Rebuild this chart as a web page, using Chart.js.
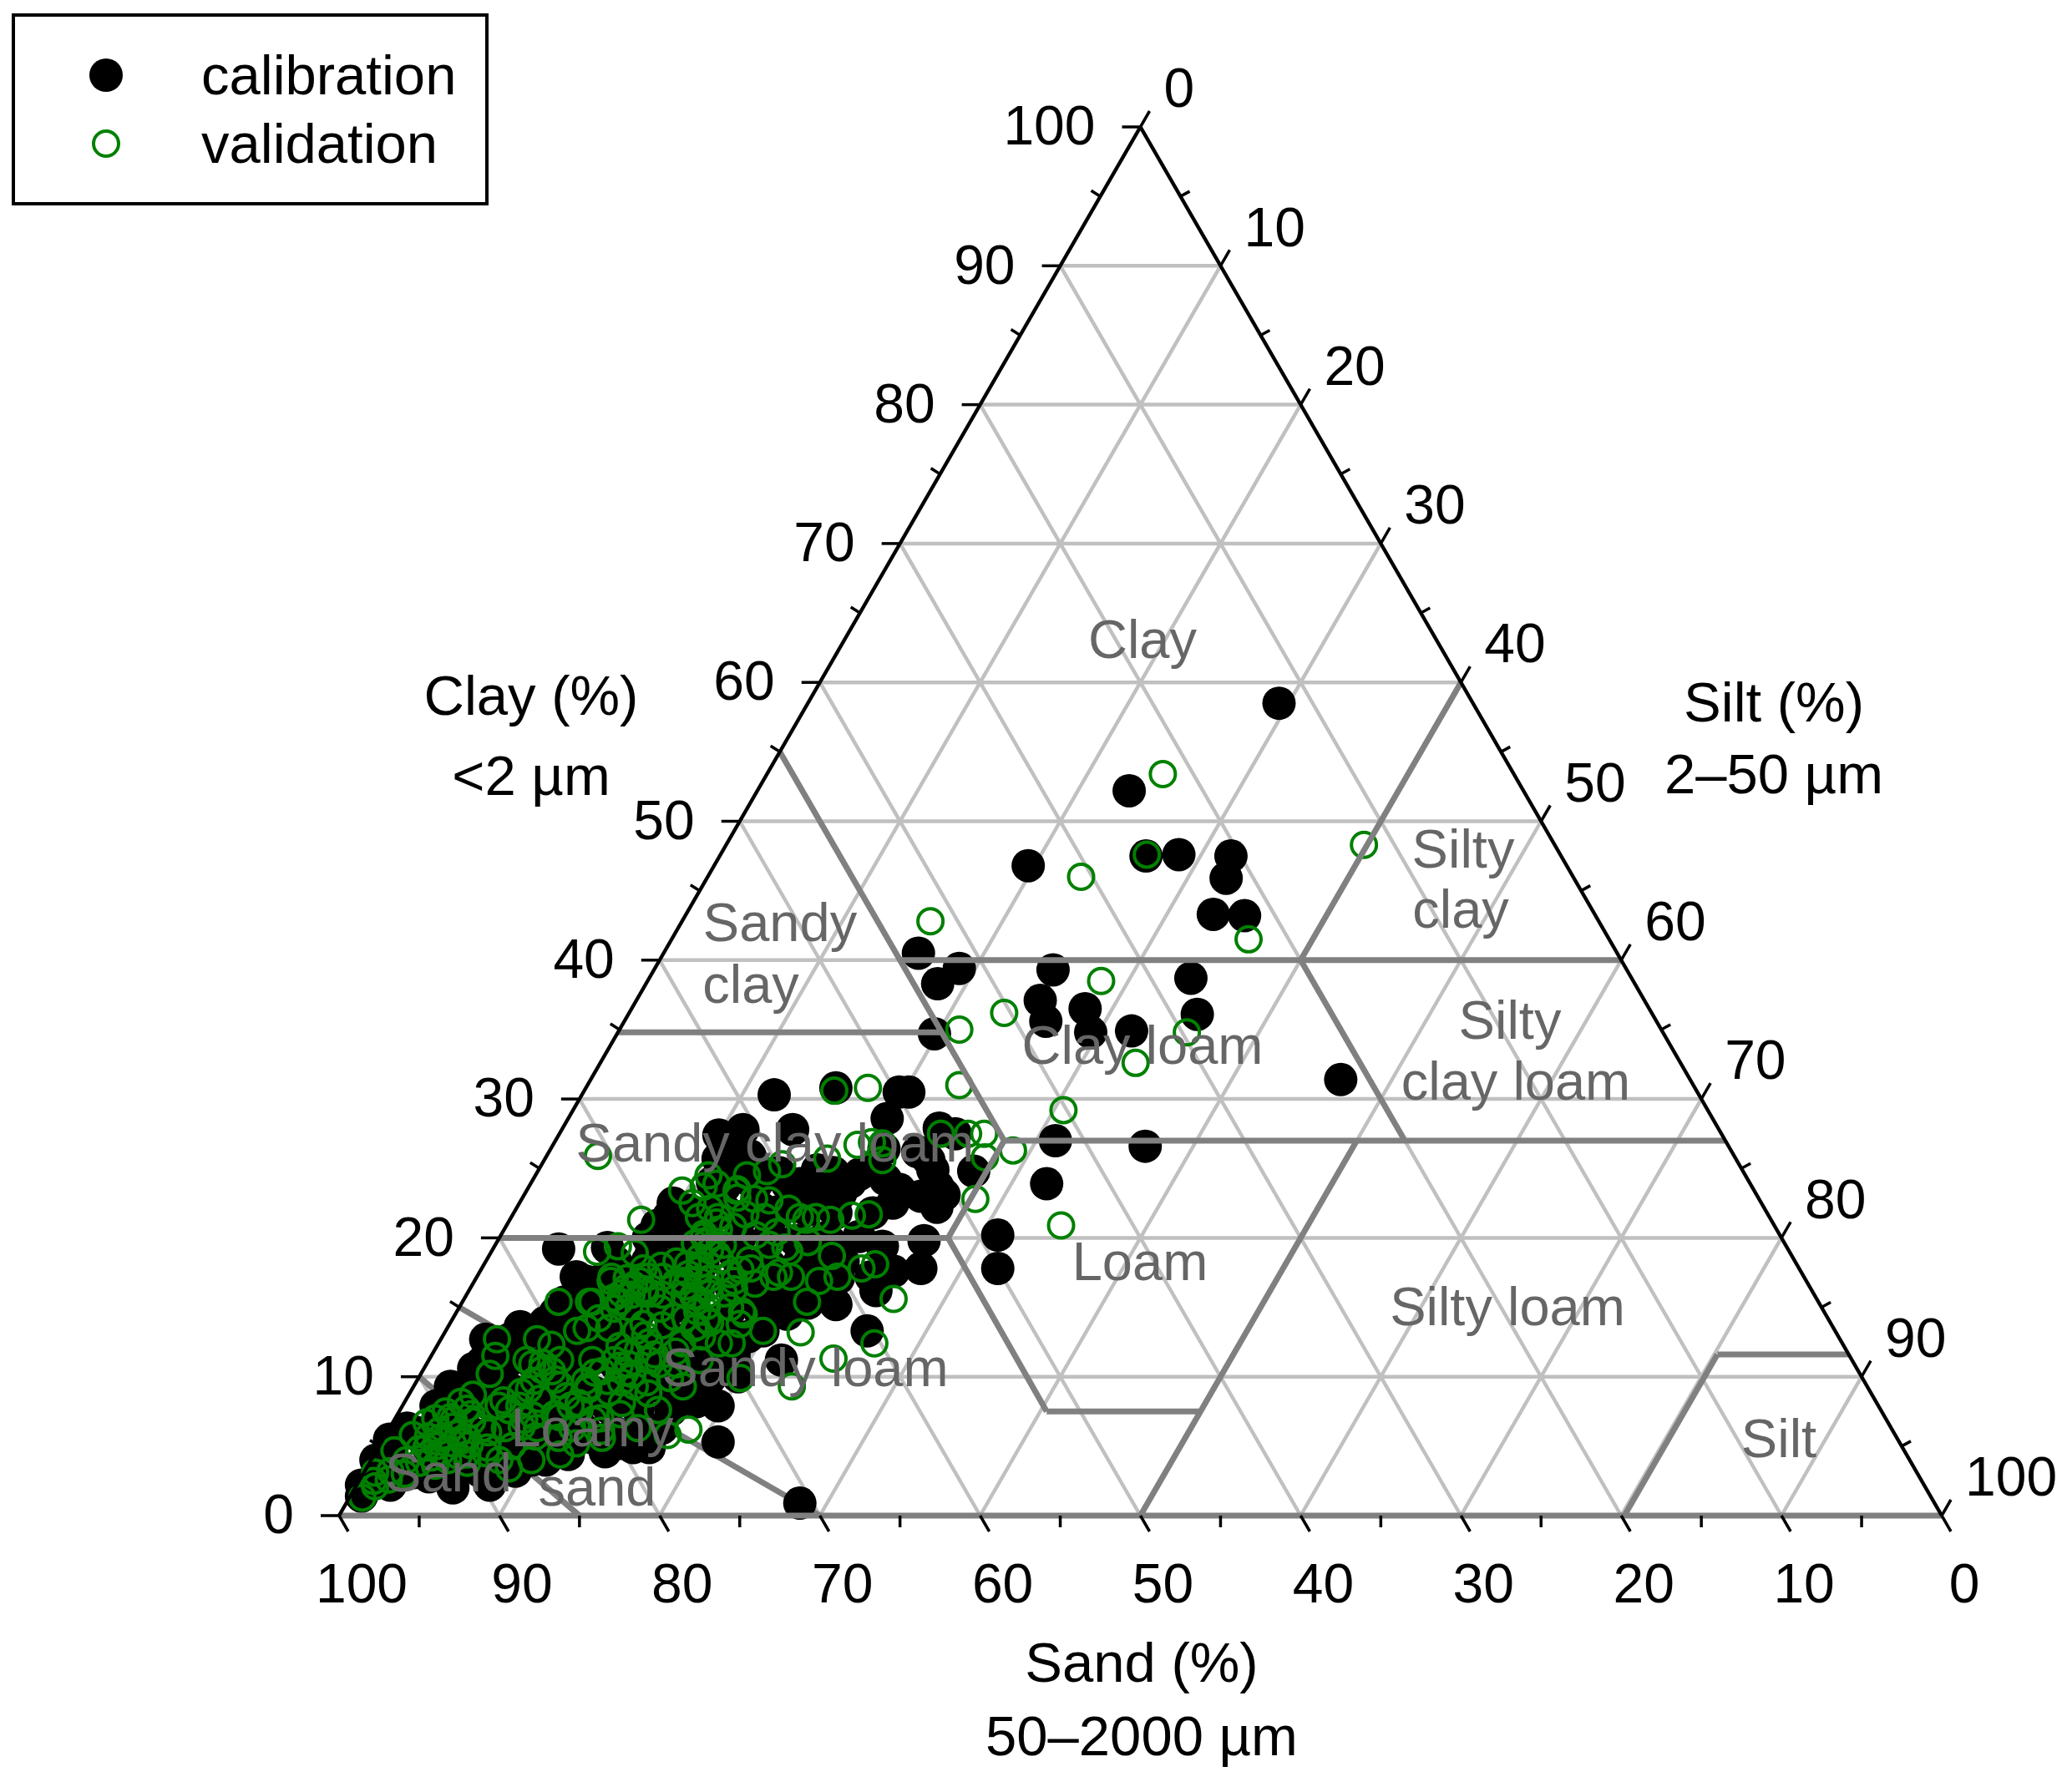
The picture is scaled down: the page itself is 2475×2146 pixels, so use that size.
<!DOCTYPE html>
<html>
<head>
<meta charset="utf-8">
<title>Soil texture triangle</title>
<script src="https://cdn.jsdelivr.net/npm/chart.js@4/dist/chart.umd.min.js"></script>
<style>
    html, body { margin: 0; padding: 0; background: #fff; }
    canvas { display: block; }
</style>
</head>
<body>
<canvas id="textureChart" width="2475" height="2146"></canvas>
<script>
// Values, in percent
const calClay = [58.5,52.2,46.8,47.5,47.6,47.5,45.9,43.3,43.2,40.5,39.4,38.3,39.3,37.1,35.6,36.5,34.8,34.9,38.7,36.1,31.4,27.0,26.6,23.9,20.2,34.7,
    5.3,17.8,17.6,16.2,17.8,13.3,11.2,14.5,15.9,7.9,8.2,10.0,17.1,13.3,0.9,
    30.3,30.8,30.5,30.5,28.6,27.9,27.5,26.4,24.9,23.5,22.5,24.9,23.7,23.1,22.2,24.8,21.8,19.8,27.4,27.8,27.8,26.4,24.9,24.7,23.9,23.5,24.7,25.3,24.9,
    22.5,21.5,25.7,23.7,25.9,23.9,22.9,19.7,21.9,21.9,21.9,20.9,18.4,18.4,17.7,17.2,15.3,16.5,19.3,16.9,
    19.2,17.2,16.9,15.4,13.6,12.7,10.6,13.9,20.9,19.0,17.2,15.3,13.6,11.8,11.8,16.9,13.6,12.4,15.7,12.9,12.4,10.9,10.3,9.3,
    8.7,7.9,6.3,5.5,4.0,2.2,1.4,2.2,2.8,2.0,2.2,2.8,4.0,4.9,4.9,4.9,5.6,5.2,6.3,5.2,5.2,6.3,7.3,9.3,9.3,7.3,8.2,9.3,7.6,12.7,13.3,14.2,3.4,4.0,3.2,4.0,3.2,
    13.5,11.7,10.5,9.9,12.9,15.3,17.7,19.5,18.9,17.7,16.5,12.3,9.3,8.1,5.6,
    3.0,3.1,2.9,3.2,
    4.5,4.6,4.4,4.5,4.7,4.4,4.6,
    6.0,6.1,5.9,6.0,6.2,5.8,6.1,6.0,5.9,
    7.8,7.7,7.9,7.8,7.6,8.0,7.8,7.7,
    9.1,9.2,9.0,9.1,9.3,8.9,9.1,9.2,9.0,
    11.0,11.1,10.9,11.0,11.2,10.8,11.0,11.1,10.9,11.0,
    12.8,12.7,12.9,12.8,12.6,13.0,12.8,12.7,
    14.6,14.7,14.5,14.6,14.8,14.4,14.6,14.7,
    16.4,16.3,16.5,16.4,16.2,16.6,16.4,16.3,
    18.2,18.3,18.1,18.2,18.4,18.0,18.2,18.3,
    20.0,20.1,19.9,20.0,20.2,19.8,20.0,20.1,
    22.0,21.9,22.1,22.0,21.8,
    24.0,24.1,23.9,24.0,24.2,
    23.2,24.6,22.3,25.6,26.2,23.0,19.4,15.2];
const calSilt = [29.4,23.2,19.6,26.6,28.6,31.9,32.4,32.9,34.9,15.9,19.0,18.2,24.9,25.2,26.3,28.3,29.5,32.0,33.8,35.5,46.8,31.2,37.0,32.2,31.0,19.8,
    21.0,27.4,25.8,25.4,32.2,26.3,22.0,20.7,19.2,19.7,18.2,19.9,22.6,19.8,28.3,
    12.0,15.6,19.7,20.3,19.9,23.5,24.7,20.8,21.0,23.2,23.3,24.6,25.5,26.2,26.2,27.2,22.4,26.6,10.0,11.3,14.4,11.0,17.4,18.5,16.8,18.7,15.1,13.1,11.8,
    9.6,9.8,10.8,12.2,12.7,14.1,17.0,20.8,16.5,14.8,12.2,11.5,17.4,20.0,21.8,24.6,21.6,18.3,7.1,7.8,
    4.1,6.2,6.9,6.4,4.5,2.8,3.1,5.9,9.4,10.0,8.8,12.2,10.4,7.9,5.3,14.0,16.5,16.3,17.2,19.1,13.7,11.8,9.4,2.3,
    2.8,2.1,1.1,0.4,0.3,0.3,0.7,2.1,0.9,6.1,8.3,4.2,10.0,11.5,15.9,16.9,13.0,15.0,17.0,6.3,2.8,4.0,7.0,5.1,7.7,10.5,12.6,14.7,16.9,4.3,5.8,7.0,4.6,6.0,9.4,10.9,2.1,
    15.9,18.8,15.2,18.2,12.0,10.7,11.7,12.9,15.2,19.5,17.5,9.2,10.7,8.7,7.3,
    1.2,3.1,5.3,7.2,
    1.0,3.4,5.1,7.6,9.3,12.1,14.3,
    1.8,3.2,5.4,6.6,8.7,10.4,12.3,14.2,16.0,
    2.4,3.9,5.6,7.4,9.2,11.1,12.9,14.8,
    3.3,4.8,6.3,8.2,9.6,11.4,13.2,15.6,17.1,
    3.4,5.0,6.7,8.4,10.1,12.3,13.8,15.7,17.4,19.2,
    4.9,6.8,8.3,10.2,12.1,14.0,15.4,17.6,
    6.2,8.1,9.7,11.4,13.2,15.1,17.0,18.9,
    7.4,9.0,10.8,12.6,14.3,16.1,19.5,21.2,
    8.2,10.1,11.9,13.6,15.7,17.9,19.6,22.3,
    9.3,11.2,13.1,15.0,16.8,18.6,20.3,22.4,
    10.8,13.2,15.3,18.2,20.1,
    11.3,13.6,16.0,19.9,22.0,
    19.7,20.2,17.6,24.0,23.0,24.8,24.2,23.4];

const valClay = [53.4,46.0,47.6,48.3,42.8,41.5,38.5,36.2,35.0,34.8,32.6,31.0,29.2,20.9,
    30.6,30.8,27.5,27.5,27.5,26.3,25.8,22.8,26.7,26.9,26.8,25.6,25.7,21.6,21.7,21.3,25.3,24.8,24.5,23.4,22.8,22.7,22.1,21.5,21.3,21.5,21.5,21.7,19.5,19.0,18.7,17.8,18.1,
    17.2,16.9,15.4,15.6,13.2,13.3,12.4,11.3,9.3,9.9,6.2,12.4,17.2,17.5,17.8,16.3,14.5,9.3,16.9,15.4,17.1,16.0,13.6,13.9,14.2,12.4,12.4,
    25.9,24.5,23.4,21.3,22.5,23.7,21.5,23.5,21.5,19.5,18.4,20.1,18.3,17.2,18.9,19.4,19.0,16.9,16.6,17.2,18.1,17.7,17.2,19.3,16.0,16.9,16.5,15.9,16.0,16.0,15.4,
    15.4,15.4,17.2,15.4,12.7,11.5,10.2,12.7,11.2,13.3,13.5,13.5,12.3,13.3,16.0,15.9,17.7,14.7,10.9,10.3,11.2,10.5,10.9,12.9,11.2,13.5,14.1,14.7,
    8.7,7.9,7.0,6.7,5.8,4.7,3.1,1.3,2.5,10.9,9.1,9.4,7.9,4.4,4.0,3.4,5.6,7.6,5.8,8.8,9.3,9.7,9.3,7.3,6.9,6.3,6.3,5.6,5.2,5.6,4.9,4.0,3.2,4.9,4.0,4.4,4.0,6.3,6.3,6.9,7.3,6.3,9.9,11.2,11.7,11.2,10.3,6.9,7.3,7.9,
    5.0,4.6,5.4,4.2,5.9,5.1,3.8,4.8,6.1,6.4,5.7,4.3,3.6,6.8,7.1,7.7,3.0,2.6,2.1,7.5,8.2,6.0,4.5,3.8,
    11.2,10.8,11.9,12.2,10.4,9.7,9.1,8.6,8.1,8.9,7.6,7.1,10.2,9.6,11.6,12.5,13.0,13.7,14.3,13.8,14.9,
    17.4,18.1,17.0,18.6,19.1,19.7,20.3,20.6,21.1,19.6,18.8,15.8,16.4,15.1,16.8,
    16.4,16.9,15.7,17.1,15.9,14.9,14.2,15.0,17.8,18.0,16.3,
    8.3,7.6,8.9,9.7,10.4,11.0,9.8,8.4,7.2,6.4,5.7,5.0,5.6,5.2,7.0,6.1,8.1,
    23.9,22.1,22.9,20.8,20.2,20.4,19.7,18.4,17.4,16.7,15.0,13.8,11.8,10.9,9.6];
const valSilt = [24.7,23.3,26.6,39.8,15.5,36.0,28.3,23.4,21.2,35.5,33.4,23.2,30.6,34.6,
    15.6,17.6,23.8,25.5,26.5,28.9,27.4,28.3,19.0,19.8,20.5,21.1,17.6,21.2,22.2,20.0,15.0,14.3,13.2,13.1,14.5,15.5,17.0,18.0,18.5,19.0,15.8,14.5,17.1,18.6,21.4,23.7,24.4,
    22.5,21.5,21.5,26.8,22.2,19.8,27.2,25.2,23.6,20.1,18.7,18.3,19.6,18.7,16.8,16.5,18.0,16.8,13.0,14.6,14.6,16.0,15.5,16.2,14.5,15.2,17.5,
    3.2,10.8,9.7,8.2,10.8,10.9,11.7,13.1,12.9,14.2,14.6,12.7,11.9,10.7,9.0,7.7,6.6,8.5,10.1,11.6,13.5,16.2,18.5,18.2,15.1,16.2,13.4,12.2,11.1,9.6,8.1,
    6.0,7.9,8.4,9.8,3.5,4.0,4.3,6.0,6.1,8.2,10.1,8.7,7.1,11.9,11.5,13.6,13.6,17.8,12.6,10.8,8.2,7.4,14.5,16.2,16.9,15.4,15.9,15.0,
    4.0,6.0,2.5,2.1,1.7,1.1,0.7,0.8,0.9,6.6,7.3,9.1,10.5,11.6,10.0,8.9,13.6,16.1,17.6,14.9,13.8,11.9,10.9,9.8,8.1,7.2,5.8,5.2,4.5,3.5,3.0,2.2,1.6,6.8,8.0,5.8,4.8,9.2,11.4,12.4,13.9,15.5,15.7,13.7,12.1,10.2,12.7,3.7,4.6,7.3,
    3.6,4.1,4.9,3.7,4.5,5.6,3.1,2.6,3.2,3.9,2.7,5.3,4.2,4.9,3.4,4.1,2.6,1.8,1.2,2.9,3.5,6.3,6.9,6.1,
    11.6,12.1,12.7,11.4,11.2,10.5,11.0,9.9,10.9,12.4,11.2,10.2,13.2,12.8,13.9,13.1,12.6,13.3,13.8,12.1,12.6,
    13.1,12.7,13.9,13.2,13.6,13.1,12.6,13.4,13.0,12.4,14.2,14.2,14.8,15.4,12.6,
    9.7,10.3,9.3,9.4,10.3,9.7,9.1,10.6,10.1,11.1,10.9,
    6.1,6.8,6.9,7.3,8.1,7.2,8.6,8.3,8.5,8.2,9.4,8.3,10.9,12.2,12.8,13.3,13.6,
    11.6,12.1,13.4,14.2,15.9,17.1,19.4,16.4,15.7,17.6,16.9,18.1,15.1,15.6,14.4];

const gridValues = [10, 20, 30, 40, 50, 60, 70, 80, 90];
const majorTicks = [0, 10, 20, 30, 40, 50, 60, 70, 80, 90, 100];
const minorTicks = [5, 15, 25, 35, 45, 55, 65, 75, 85, 95];
const clayLabels = ['0', '10', '20', '30', '40', '50', '60', '70', '80', '90', '100'];
const siltLabels = ['0', '10', '20', '30', '40', '50', '60', '70', '80', '90', '100'];
const sandLabels = ['100', '90', '80', '70', '60', '50', '40', '30', '20', '10', '0'];

// Texture class boundaries as [clay, silt] pairs
const classLines = [
    [[55, 0], [27, 28]], [[27, 28], [20, 28]], [[20, 28], [7.5, 40.4]], [[7.5, 40.4], [7.5, 50]],
    [[27, 50], [0, 50]], [[40, 15], [40, 60]], [[27, 28], [27, 73]], [[60, 40], [40, 40]],
    [[40, 40], [27, 53]], [[34.8, 0], [34.8, 20.2]], [[20, 0], [20, 28]],
    [[11.6, 80.2], [0, 80.2]], [[11.6, 80.2], [11.6, 88.4]], [[0, 0], [0, 100]]
];
// these two sit under the points in the reference
const lowerClassLines = [[[15, 0], [0, 30]], [[10, 0], [0, 15]]];

const classNames = ['Clay', 'Silty', 'clay', 'Sandy', 'clay', 'Clay loam', 'Silty', 'clay loam', 'Sandy clay loam', 'Loam', 'Silty loam', 'Sandy loam', 'Silt', 'Loamy', 'sand', 'Sand'];
const classX = [1368, 1752, 1749, 934, 899, 1368, 1808, 1815, 928, 1365, 1805, 964, 2130, 709, 715, 537];
const classY = [770, 1021, 1093, 1109, 1183, 1256, 1226, 1299, 1373, 1515, 1569, 1642, 1727, 1714, 1785, 1768];

const titles = ['Clay (%)', '<2 µm', 'Silt (%)', '2–50 µm', 'Sand (%)', '50–2000 µm'];
const titleX = [636, 636, 2124, 2124, 1367, 1367];
const titleY = [838, 934, 846, 932, 1996, 2084];

// clay + silt to the flat x/y of the triangle
const tern = (clay, silt) => ({ x: silt + clay / 2, y: clay });
const gap = { x: NaN, y: NaN };

function segments(pairs) {
    const out = [];
    pairs.forEach(p => out.push(tern(p[0][0], p[0][1]), tern(p[1][0], p[1][1]), gap));
    return out;
}

const gridPairs = [];
gridValues.forEach(v => {
    gridPairs.push([[v, 0], [v, 100 - v]]);       // constant clay
    gridPairs.push([[0, v], [100 - v, v]]);       // constant silt
    gridPairs.push([[100 - v, 0], [0, 100 - v]]); // constant sand
});

const lineSet = (label, pairs, color, width, order) => ({
    label, data: segments(pairs), showLine: true, borderColor: color, borderWidth: width,
    pointRadius: 0, spanGaps: false, order, clip: false
});

const trianglePlugin = {
    id: 'triangleText',
    afterDatasetsDraw(chart) {
        const c = chart.ctx;
        const sx = chart.scales.x, sy = chart.scales.y;
        const px = (clay, silt) => [sx.getPixelForValue(silt + clay / 2), sy.getPixelForValue(clay)];
        const tick = (p, dx, dy) => {
            c.beginPath();
            c.moveTo(p[0], p[1]);
            c.lineTo(p[0] + dx, p[1] + dy);
            c.stroke();
        };
        c.save();
        c.strokeStyle = '#000';
        c.lineWidth = 3.5;
        majorTicks.forEach(v => {
            tick(px(v, 0), -22, 0);
            tick(px(100 - v, v), 11, -19);
            tick(px(0, 100 - v), 11, 19);
        });
        minorTicks.forEach(v => {
            tick(px(v, 0), -11, -7);
            tick(px(100 - v, v), 11, -6);
            tick(px(0, 100 - v), 0, 14);
        });

        c.font = '66px "Liberation Sans"';
        c.fillStyle = '#000';
        c.textBaseline = 'middle';
        c.textAlign = 'right';
        clayLabels.forEach((t, i) => {
            const p = px(majorTicks[i], 0);
            c.fillText(t, p[0] - 54, p[1] + 3);
        });
        c.textAlign = 'left';
        siltLabels.forEach((t, i) => {
            const p = px(100 - majorTicks[i], majorTicks[i]);
            c.fillText(t, p[0] + 28, p[1] - 42);
        });
        c.textAlign = 'center';
        sandLabels.forEach((t, i) => {
            const p = px(0, majorTicks[i]);
            c.fillText(t, p[0] + 27, p[1] + 86);
        });
        c.font = '67px "Liberation Sans"';
        titles.forEach((t, i) => c.fillText(t, titleX[i], titleY[i]));

        c.font = '65px "Liberation Sans"';
        c.fillStyle = '#666666';
        classNames.forEach((t, i) => c.fillText(t, classX[i], classY[i]));

        // legend box
        c.strokeStyle = '#000';
        c.lineWidth = 4;
        c.strokeRect(16, 18, 567, 226);
        c.fillStyle = '#000';
        c.beginPath();
        c.arc(127, 90, 20, 0, Math.PI * 2);
        c.fill();
        c.strokeStyle = '#008000';
        c.lineWidth = 4;
        c.beginPath();
        c.arc(127, 172, 15, 0, Math.PI * 2);
        c.stroke();
        c.font = '67px "Liberation Sans"';
        c.fillStyle = '#000';
        c.textAlign = 'left';
        c.fillText(chart.data.datasets[2].label, 241, 95);
        c.fillText(chart.data.datasets[3].label, 241, 177);
        c.restore();
    }
};

new Chart(document.getElementById('textureChart'), {
    type: 'scatter',
    data: {
        datasets: [
            lineSet('grid', gridPairs, '#c0c0c0', 4.5, 6),
            lineSet('lower classes', lowerClassLines, '#808080', 7, 5),
            {
                label: 'calibration',
                data: calClay.map((v, i) => tern(v, calSilt[i])),
                pointRadius: 20, pointBorderWidth: 0,
                pointBackgroundColor: '#000', order: 4, clip: false
            },
            {
                label: 'validation',
                data: valClay.map((v, i) => tern(v, valSilt[i])),
                pointRadius: 15, pointBorderWidth: 4, pointBorderColor: '#008000',
                pointBackgroundColor: 'transparent', order: 3, clip: false
            },
            lineSet('classes', classLines, '#808080', 7, 2),
            lineSet('edges', [[[0, 0], [100, 0]], [[100, 0], [0, 100]]], '#000', 4.5, 1)
        ]
    },
    options: {
        responsive: false,
        animation: false,
        devicePixelRatio: 1,
        layout: { padding: { left: 406, right: 150, top: 152, bottom: 331 } },
        scales: {
            x: { type: 'linear', min: 0, max: 100, display: false },
            y: { type: 'linear', min: 0, max: 100, display: false }
        },
        plugins: { legend: { display: false }, tooltip: { enabled: false } }
    },
    plugins: [trianglePlugin]
});
</script>
</body>
</html>
